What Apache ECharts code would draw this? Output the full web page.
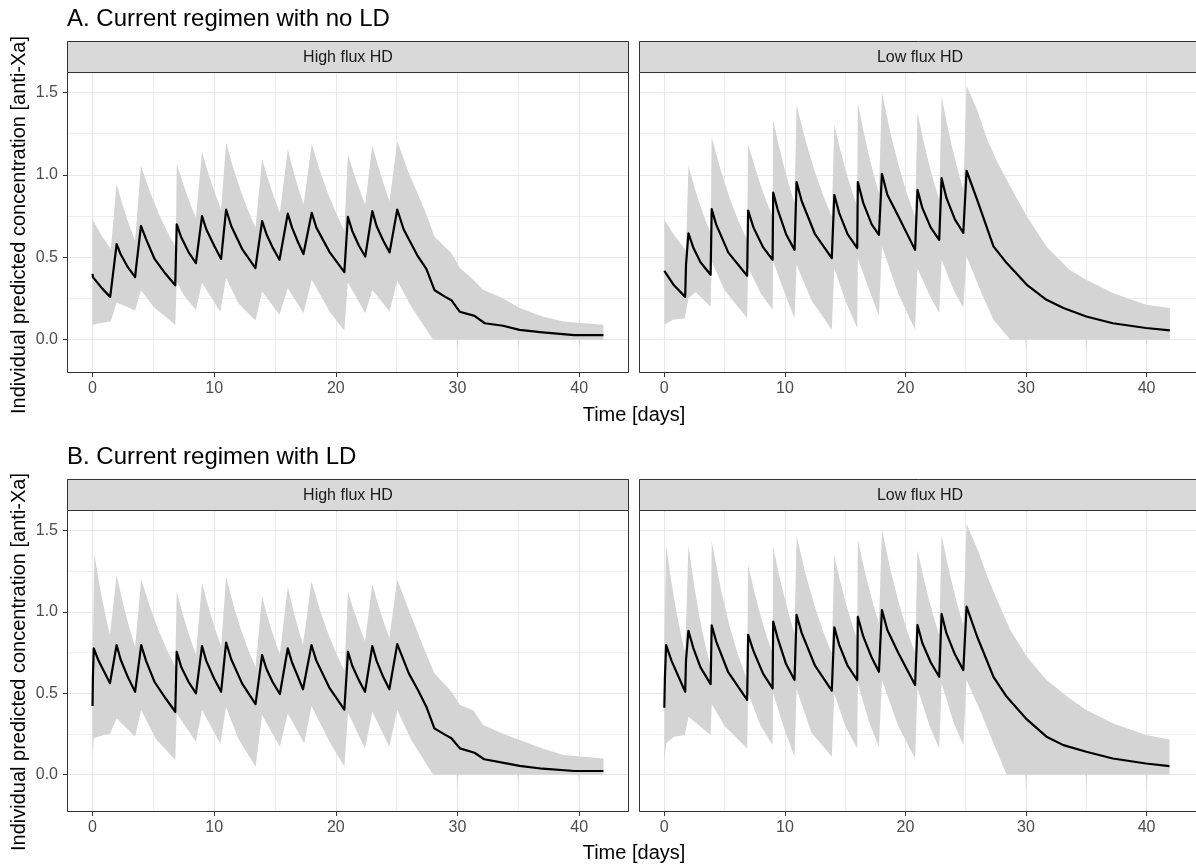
<!DOCTYPE html>
<html>
<head>
<meta charset="utf-8">
<script src="https://cdn.jsdelivr.net/npm/echarts@6.0.0/dist/echarts.min.js"></script>
<style>
html,body{margin:0;padding:0;background:#fff;overflow:hidden;}
#chart{width:1196px;height:865px;}
</style>
</head>
<body>
<div id="chart"></div>
<script>
// ---------------- DATA ----------------
const panelTitles = ["A. Current regimen with no LD", "B. Current regimen with LD"];
const stripLabels = ["High flux HD", "Low flux HD"];
const xTitle = "Time [days]";
const yTitle = "Individual predicted concentration [anti-Xa]";
const xTicks = [0, 10, 20, 30, 40];
const xMinorTicks = [5, 15, 25, 35];
const yTicks = [0, 0.5, 1.0, 1.5];
const yMinorTicks = [0.25, 0.75, 1.25];

// A. no LD, High flux HD
const aHighMedian = [[0,0.40],[0.03,0.38],[0.8,0.31],[1.45,0.26],[1.6,0.35],[1.98,0.58],[2.3,0.52],[2.9,0.44],[3.5,0.38],[3.6,0.45],[3.98,0.69],[4.4,0.61],[5.1,0.49],[6.0,0.40],[6.8,0.33],[6.92,0.70],[7.3,0.62],[7.9,0.53],[8.5,0.465],[9.0,0.75],[9.35,0.67],[10.0,0.57],[10.57,0.49],[10.98,0.79],[11.4,0.69],[12.3,0.55],[13.39,0.435],[13.94,0.72],[14.3,0.64],[14.8,0.56],[15.37,0.485],[16.05,0.765],[16.4,0.68],[16.9,0.59],[17.34,0.52],[18.02,0.77],[18.4,0.68],[19.5,0.53],[20.7,0.41],[20.99,0.745],[21.35,0.66],[21.9,0.57],[22.42,0.505],[23.0,0.78],[23.35,0.69],[23.9,0.60],[24.42,0.53],[25.05,0.79],[25.57,0.67],[26.75,0.505],[27.44,0.43],[28.12,0.30],[29.0,0.26],[29.5,0.24],[30.18,0.17],[31.4,0.145],[32.24,0.10],[33.74,0.085],[35.1,0.06],[37.0,0.045],[39.6,0.028],[42.0,0.028]];
const aHighUpper = [[0,0.73],[0.75,0.63],[1.5,0.55],[1.98,0.945],[2.36,0.844],[2.74,0.753],[3.12,0.673],[3.5,0.60],[3.98,1.055],[4.7,0.90],[5.42,0.769],[6.13,0.656],[6.85,0.56],[6.92,1.067],[7.32,0.973],[7.71,0.888],[8.1,0.811],[8.5,0.74],[9.0,1.14],[9.39,1.04],[9.79,0.949],[10.18,0.866],[10.57,0.79],[10.98,1.196],[11.58,1.038],[12.19,0.902],[12.8,0.783],[13.4,0.68],[13.94,1.097],[14.3,1.004],[14.67,0.919],[15.03,0.841],[15.4,0.77],[16.05,1.156],[16.37,1.061],[16.7,0.973],[17.02,0.893],[17.35,0.82],[18.02,1.188],[18.69,1.025],[19.36,0.885],[20.03,0.765],[20.7,0.66],[20.99,1.125],[21.35,1.039],[21.7,0.961],[22.06,0.888],[22.42,0.82],[23.0,1.18],[23.35,1.084],[23.71,0.996],[24.06,0.915],[24.42,0.84],[25.05,1.206],[25.9,1.03],[27.4,0.768],[28.1,0.626],[29.5,0.525],[30.2,0.435],[31.3,0.364],[32.1,0.303],[33.7,0.253],[35.1,0.192],[37.0,0.141],[38.7,0.111],[42.0,0.091]];
const aHighLower = [[0,0.09],[0.5,0.10],[1.5,0.11],[1.98,0.226],[3.5,0.178],[3.98,0.30],[5.0,0.20],[6.8,0.09],[6.92,0.35],[7.5,0.27],[8.5,0.18],[9.0,0.345],[10.5,0.17],[10.98,0.374],[12.0,0.22],[13.4,0.117],[13.94,0.293],[15.37,0.152],[16.05,0.313],[17.34,0.162],[18.02,0.364],[19.5,0.17],[20.7,0.055],[20.99,0.347],[22.42,0.162],[23.0,0.301],[24.42,0.172],[25.05,0.359],[26.2,0.20],[28.0,0.0],[29.95,0.0],[30.0,-0.08],[30.05,0.0],[34.95,0.0],[35.0,-0.07],[35.05,0.0],[39.95,0.0],[40.0,-0.05],[40.05,0.0],[42.0,0.0]];

// A. no LD, Low flux HD
const aLowMedian = [[0,0.418],[0.8,0.33],[1.73,0.26],[1.8,0.455],[2.0,0.646],[2.4,0.56],[3.0,0.47],[3.84,0.394],[3.93,0.792],[4.3,0.70],[5.3,0.53],[6.87,0.388],[6.95,0.784],[7.4,0.68],[8.2,0.56],[8.98,0.485],[9.03,0.893],[9.4,0.79],[10.1,0.64],[10.8,0.545],[10.97,0.956],[11.4,0.84],[12.5,0.64],[13.89,0.495],[14.1,0.879],[14.5,0.77],[15.2,0.64],[16.0,0.556],[16.05,0.956],[16.5,0.83],[17.2,0.70],[17.8,0.636],[18.05,1.006],[18.5,0.88],[19.4,0.75],[20.8,0.545],[21.0,0.909],[21.4,0.80],[22.1,0.68],[22.8,0.606],[23.0,0.98],[23.4,0.86],[24.1,0.73],[24.8,0.648],[25.07,1.025],[25.95,0.848],[27.3,0.566],[28.4,0.465],[30.07,0.333],[31.7,0.242],[33.1,0.192],[35.0,0.141],[37.2,0.10],[39.95,0.071],[41.93,0.057]];
const aLowUpper = [[0,0.727],[0.9,0.626],[1.8,0.54],[2.0,1.055],[2.46,0.934],[2.92,0.827],[3.38,0.732],[3.84,0.648],[3.93,1.228],[4.67,1.029],[5.4,0.862],[6.14,0.722],[6.87,0.606],[6.95,1.188],[7.46,1.058],[7.97,0.942],[8.47,0.839],[8.98,0.747],[9.03,1.333],[9.47,1.184],[9.92,1.052],[10.36,0.934],[10.8,0.83],[10.97,1.424],[11.7,1.212],[12.43,1.031],[13.16,0.878],[13.89,0.747],[14.1,1.303],[14.58,1.156],[15.05,1.025],[15.53,0.909],[16.0,0.806],[16.05,1.438],[16.49,1.276],[16.93,1.131],[17.36,1.004],[17.8,0.89],[18.05,1.499],[18.74,1.259],[19.43,1.058],[20.11,0.889],[20.8,0.747],[21.0,1.378],[21.45,1.221],[21.9,1.083],[22.35,0.959],[22.8,0.85],[23.0,1.475],[23.45,1.307],[23.9,1.159],[24.35,1.027],[24.8,0.91],[25.07,1.54],[25.95,1.394],[26.8,1.212],[27.6,1.081],[28.7,0.93],[30.07,0.747],[31.7,0.566],[33.6,0.424],[35.0,0.364],[37.2,0.283],[39.95,0.212],[41.93,0.192]];
const aLowLower = [[0,0.091],[0.7,0.121],[1.7,0.131],[2.0,0.252],[2.6,0.29],[3.84,0.20],[3.93,0.475],[5.0,0.30],[6.87,0.131],[6.95,0.44],[8.0,0.28],[8.98,0.182],[9.03,0.475],[10.0,0.28],[10.8,0.131],[10.97,0.455],[12.2,0.24],[13.89,0.061],[14.1,0.434],[15.0,0.24],[16.0,0.071],[16.05,0.495],[17.0,0.30],[17.8,0.145],[18.05,0.566],[19.4,0.28],[20.8,0.061],[21.0,0.434],[22.0,0.27],[22.8,0.162],[23.0,0.485],[24.0,0.30],[24.8,0.192],[25.07,0.505],[26.3,0.283],[27.3,0.121],[28.7,0.0],[29.95,0.0],[30.0,-0.06],[30.05,0.0],[34.95,0.0],[35.0,-0.12],[35.05,0.0],[39.95,0.0],[40.0,-0.04],[40.05,0.0],[41.93,0.0]];

// B. with LD, High flux HD
const bHighMedian = [[0,0.422],[0.03,0.60],[0.1,0.777],[0.5,0.70],[1.43,0.562],[1.98,0.797],[2.3,0.71],[2.9,0.60],[3.5,0.51],[4.0,0.797],[4.4,0.70],[5.1,0.57],[6.0,0.47],[6.8,0.387],[6.92,0.756],[7.3,0.66],[7.9,0.57],[8.5,0.50],[9.0,0.791],[9.35,0.70],[10.0,0.59],[10.57,0.51],[10.98,0.812],[11.4,0.71],[12.3,0.56],[13.4,0.434],[13.94,0.735],[14.3,0.65],[14.8,0.57],[15.4,0.496],[16.05,0.777],[16.4,0.69],[16.9,0.60],[17.3,0.525],[18.0,0.797],[18.4,0.70],[19.5,0.53],[20.7,0.40],[21.0,0.756],[21.35,0.67],[21.9,0.58],[22.4,0.51],[23.0,0.791],[23.35,0.70],[23.9,0.60],[24.4,0.525],[25.05,0.803],[26.0,0.623],[26.75,0.521],[27.44,0.418],[28.1,0.285],[29.0,0.245],[29.5,0.224],[30.2,0.162],[31.4,0.135],[32.2,0.095],[33.7,0.074],[35.1,0.054],[37.0,0.037],[39.6,0.023],[42.0,0.023]];
const bHighUpper = [[0,0.70],[0.15,1.357],[0.47,1.21],[0.79,1.08],[1.11,0.963],[1.43,0.86],[1.98,1.228],[2.36,1.099],[2.74,0.983],[3.12,0.879],[3.5,0.787],[4.0,1.202],[4.7,1.036],[5.4,0.893],[6.1,0.77],[6.8,0.664],[6.92,1.125],[7.32,1.013],[7.71,0.913],[8.1,0.822],[8.5,0.74],[9.0,1.18],[9.39,1.067],[9.79,0.965],[10.18,0.873],[10.57,0.79],[10.98,1.213],[11.58,1.042],[12.19,0.895],[12.8,0.768],[13.4,0.66],[13.94,1.095],[14.3,0.993],[14.67,0.90],[15.03,0.817],[15.4,0.74],[16.05,1.156],[16.36,1.054],[16.68,0.962],[16.99,0.877],[17.3,0.80],[18.0,1.187],[18.68,1.017],[19.35,0.871],[20.03,0.747],[20.7,0.64],[21.0,1.125],[21.35,1.039],[21.7,0.961],[22.05,0.887],[22.4,0.82],[23.0,1.172],[23.35,1.078],[23.7,0.992],[24.05,0.912],[24.4,0.84],[25.05,1.202],[26.0,1.012],[27.4,0.746],[28.1,0.624],[29.5,0.511],[30.2,0.428],[31.3,0.397],[32.1,0.305],[33.7,0.254],[35.1,0.213],[37.0,0.162],[38.7,0.121],[42.0,0.10]];
const bHighLower = [[0,0.10],[0.1,0.225],[1.0,0.245],[1.43,0.25],[1.98,0.346],[3.5,0.235],[4.0,0.398],[5.2,0.22],[6.8,0.09],[6.92,0.377],[8.5,0.203],[9.0,0.398],[10.5,0.192],[10.98,0.414],[12.0,0.22],[13.4,0.049],[13.94,0.367],[15.4,0.172],[16.05,0.377],[17.4,0.192],[18.0,0.422],[19.5,0.20],[20.7,0.049],[21.0,0.381],[22.4,0.162],[23.0,0.387],[24.4,0.172],[25.05,0.398],[26.2,0.213],[28.0,0.0],[29.95,0.0],[30.0,-0.10],[30.05,0.0],[34.95,0.0],[35.0,-0.10],[35.05,0.0],[39.95,0.0],[40.0,-0.06],[40.05,0.0],[42.0,0.0]];

// B. with LD, Low flux HD
const bLowMedian = [[0,0.412],[0.05,0.598],[0.15,0.797],[0.6,0.70],[1.73,0.51],[1.8,0.704],[2.0,0.885],[2.4,0.78],[3.0,0.66],[3.84,0.557],[3.93,0.918],[4.3,0.82],[5.3,0.63],[6.87,0.46],[6.95,0.86],[7.4,0.76],[8.2,0.62],[8.98,0.531],[9.03,0.941],[9.4,0.84],[10.1,0.68],[10.8,0.582],[10.97,0.982],[11.4,0.87],[12.5,0.67],[13.89,0.517],[14.1,0.906],[14.5,0.80],[15.2,0.67],[16.0,0.582],[16.05,0.971],[16.5,0.85],[17.2,0.72],[17.8,0.633],[18.05,1.012],[18.5,0.89],[19.4,0.75],[20.8,0.551],[21.0,0.92],[21.4,0.81],[22.1,0.69],[22.8,0.602],[23.0,0.988],[23.4,0.87],[24.1,0.74],[24.8,0.643],[25.07,1.033],[25.95,0.848],[27.3,0.602],[28.4,0.479],[30.07,0.34],[31.7,0.234],[33.1,0.182],[35.0,0.141],[37.2,0.10],[39.95,0.069],[41.9,0.053]];
const bLowUpper = [[0,0.80],[0.15,1.412],[0.55,1.203],[0.94,1.026],[1.34,0.875],[1.73,0.746],[2.0,1.412],[2.46,1.169],[2.92,0.968],[3.38,0.802],[3.84,0.664],[3.93,1.438],[4.67,1.147],[5.4,0.915],[6.14,0.73],[6.87,0.582],[6.95,1.29],[7.46,1.125],[7.97,0.981],[8.47,0.855],[8.98,0.746],[9.03,1.398],[9.47,1.241],[9.92,1.103],[10.36,0.979],[10.8,0.869],[10.97,1.467],[11.7,1.239],[12.43,1.046],[13.16,0.884],[13.89,0.746],[14.1,1.344],[14.58,1.191],[15.05,1.055],[15.53,0.935],[16.0,0.828],[16.05,1.447],[16.49,1.295],[16.93,1.16],[17.36,1.039],[17.8,0.93],[18.05,1.508],[18.74,1.265],[19.43,1.061],[20.11,0.89],[20.8,0.746],[21.0,1.381],[21.45,1.227],[21.9,1.09],[22.35,0.968],[22.8,0.86],[23.0,1.473],[23.45,1.309],[23.9,1.165],[24.35,1.036],[24.8,0.92],[25.07,1.543],[26.0,1.381],[26.8,1.217],[27.6,1.074],[28.7,0.889],[30.07,0.725],[31.7,0.582],[33.6,0.47],[35.0,0.398],[37.2,0.316],[39.95,0.244],[41.9,0.217]];
const bLowLower = [[0,0.091],[0.15,0.193],[0.8,0.234],[1.7,0.244],[2.0,0.357],[3.84,0.244],[3.93,0.434],[5.0,0.30],[6.87,0.162],[6.95,0.50],[8.0,0.30],[8.98,0.182],[9.03,0.50],[10.0,0.27],[10.8,0.111],[10.97,0.525],[12.2,0.26],[13.89,0.111],[14.1,0.50],[15.0,0.30],[16.0,0.162],[16.05,0.562],[17.0,0.32],[17.8,0.172],[18.05,0.582],[19.4,0.30],[20.8,0.10],[21.0,0.531],[22.0,0.30],[22.8,0.162],[23.0,0.562],[24.0,0.32],[24.8,0.182],[25.07,0.582],[26.3,0.377],[27.3,0.193],[28.4,0.0],[29.95,0.0],[30.0,-0.10],[30.05,0.0],[34.95,0.0],[35.0,-0.14],[35.05,0.0],[39.95,0.0],[40.0,-0.12],[40.05,0.0],[41.9,0.0]];

// ---------------- CHART ----------------
const FONT = '"Liberation Sans", Arial, Helvetica, sans-serif';
const panels = [
  {median: aHighMedian, upper: aHighUpper, lower: aHighLower},
  {median: aLowMedian,  upper: aLowUpper,  lower: aLowLower},
  {median: bHighMedian, upper: bHighUpper, lower: bHighLower},
  {median: bLowMedian,  upper: bLowUpper,  lower: bLowLower}
];
const L = [67, 639];            // panel lefts
const W = 562;                  // panel width
const T = [72, 510];            // plot tops
const H = [301, 302];           // plot heights
const STRIP_H = 31;
const yRange = [[-0.2018, 1.624], [-0.229, 1.627]];
const xRange = [-2.1, 44.1];

const grids = [], xAxes = [], yAxes = [], series = [], graphics = [];
panels.forEach((p, i) => {
  const row = Math.floor(i / 2), col = i % 2;
  grids.push({left: L[col], top: T[row], width: W, height: H[row], containLabel: false});
  xAxes.push({
    type: 'value', gridIndex: i, min: xRange[0], max: xRange[1], position: 'bottom',
    axisLine: {show: false, onZero: false},
    axisTick: {show: true, inside: false, length: 4, lineStyle: {color: '#333333', width: 1}, customValues: xTicks},
    axisLabel: {show: true, customValues: xTicks, color: '#4D4D4D', fontSize: 16, fontFamily: FONT, margin: 8},
    splitLine: {show: true, lineStyle: {color: '#E8E8E8', width: 1.2}}
  });
  xAxes.push({
    type: 'value', gridIndex: i, min: xRange[0], max: xRange[1], position: 'bottom',
    axisLine: {show: false, onZero: false}, axisLabel: {show: false},
    axisTick: {show: false, customValues: xMinorTicks},
    splitLine: {show: true, lineStyle: {color: '#EFEFEF', width: 1}}
  });
  yAxes.push({
    type: 'value', gridIndex: i, min: yRange[row][0], max: yRange[row][1], position: 'left',
    axisLine: {show: false, onZero: false},
    axisTick: {show: col === 0, inside: false, length: 4, lineStyle: {color: '#333333', width: 1}, customValues: yTicks},
    axisLabel: {show: col === 0, customValues: yTicks, color: '#4D4D4D', fontSize: 16, fontFamily: FONT, margin: 9,
      formatter: v => v.toFixed(1)},
    splitLine: {show: true, lineStyle: {color: '#E8E8E8', width: 1.2}}
  });
  yAxes.push({
    type: 'value', gridIndex: i, min: yRange[row][0], max: yRange[row][1], position: 'left',
    axisLine: {show: false, onZero: false}, axisLabel: {show: false},
    axisTick: {show: false, customValues: yMinorTicks},
    splitLine: {show: true, lineStyle: {color: '#EFEFEF', width: 1}}
  });
  series.push({
    type: 'custom', xAxisIndex: 2 * i, yAxisIndex: 2 * i, silent: true, z: 2,
    data: [[20, 0.5]],
    renderItem: (params, api) => {
      const pts = p.upper.map(d => api.coord(d))
        .concat(p.lower.slice().reverse().map(d => api.coord(d)));
      return {type: 'polygon', shape: {points: pts}, style: {fill: '#D4D4D4', stroke: null}};
    }
  });
  series.push({
    type: 'line', xAxisIndex: 2 * i, yAxisIndex: 2 * i, data: p.median, z: 3,
    showSymbol: false, symbol: 'none', silent: true,
    lineStyle: {color: '#000000', width: 2.2, join: 'round'}
  });
  graphics.push({type: 'rect', z: 100, silent: true,
    shape: {x: L[col] + 0.5, y: T[row] + 0.5, width: W - 1, height: H[row] - 1},
    style: {fill: null, stroke: '#333333', lineWidth: 1}});
  graphics.push({type: 'rect', z: 100, silent: true,
    shape: {x: L[col] + 0.5, y: T[row] - STRIP_H + 0.5, width: W - 1, height: STRIP_H},
    style: {fill: '#D9D9D9', stroke: '#333333', lineWidth: 1}});
  graphics.push({type: 'text', z: 101, silent: true, x: L[col] + W / 2, y: T[row] - STRIP_H / 2 + 1,
    style: {text: stripLabels[col], font: '16px ' + FONT, fill: '#1A1A1A', align: 'center', verticalAlign: 'middle'}});
});

[19, 457].forEach((y, r) => {
  graphics.push({type: 'text', z: 101, silent: true, x: 67, y: y,
    style: {text: panelTitles[r], font: '24px ' + FONT, fill: '#000000', align: 'left', verticalAlign: 'middle'}});
});
[415, 853].forEach(y => {
  graphics.push({type: 'text', z: 101, silent: true, x: 634, y: y,
    style: {text: xTitle, font: '20px ' + FONT, fill: '#000000', align: 'center', verticalAlign: 'middle'}});
});
[225, 662].forEach(y => {
  graphics.push({type: 'text', z: 101, silent: true, x: 19, y: y, rotation: Math.PI / 2,
    style: {text: yTitle, font: '20px ' + FONT, fill: '#000000', align: 'center', verticalAlign: 'middle'}});
});

const chart = echarts.init(document.getElementById('chart'), null, {renderer: 'canvas'});
chart.setOption({
  animation: false,
  backgroundColor: '#FFFFFF',
  grid: grids, xAxis: xAxes, yAxis: yAxes, series: series, graphic: graphics
});
</script>
</body>
</html>
